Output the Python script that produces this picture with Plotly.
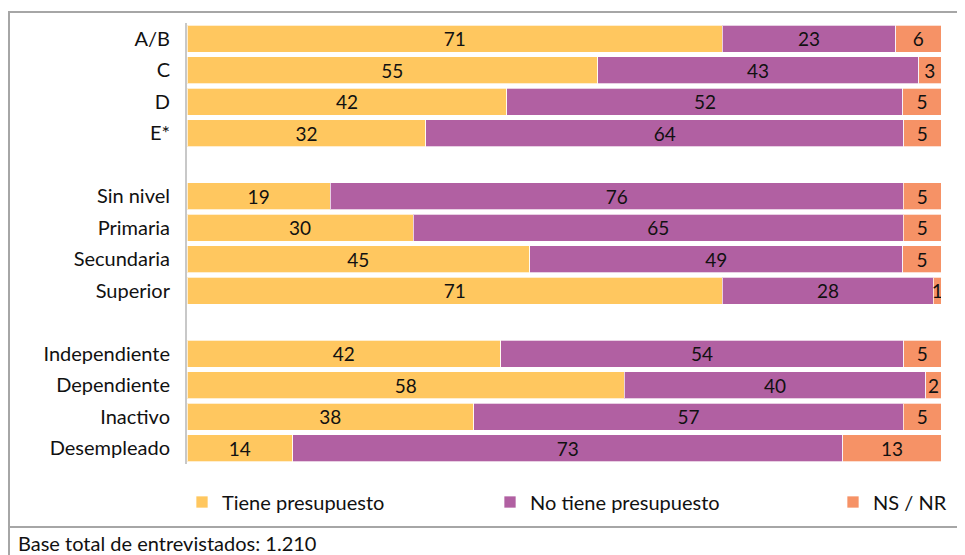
import plotly.graph_objects as go

# categories (blank entries are the spacer rows between groups)
categories = ["A/B", "C", "D", "E*", " ",
              "Sin nivel", "Primaria", "Secundaria", "Superior", "  ",
              "Independiente", "Dependiente", "Inactivo", "Desempleado"]

tiene = [71, 55, 42, 32, None, 19, 30, 45, 71, None, 42, 58, 38, 14]
no_tiene = [23, 43, 52, 64, None, 76, 65, 49, 28, None, 54, 40, 57, 73]
ns_nr = [6, 3, 5, 5, None, 5, 5, 5, 1, None, 5, 2, 5, 13]

series = [
    ("Tiene presupuesto", tiene, "#FFC75F", "legend"),
    ("No tiene presupuesto", no_tiene, "#B160A2", "legend2"),
    ("NS / NR", ns_nr, "#F69266", "legend3"),
]

FONT = "Lato"
FS = 20

# the page adds an 8px body margin, so the figure is drawn 8px smaller
W, H = 957, 547
L, R, T, B = 179, 24, 15, 91
PW, PH = W - L - R, H - T - B

fig = go.Figure()
for name, vals, color, leg in series:
    fig.add_trace(go.Bar(
        y=categories, x=vals, name=name, orientation="h",
        marker=dict(color=color, line=dict(color="rgba(255,255,255,0.7)", width=1)),
        text=[("" if v is None else str(v)) for v in vals],
        textposition="inside", insidetextanchor="middle", textangle=0,
        textfont=dict(family=FONT, size=FS - 1, color="#111111"),
        legend=leg, showlegend=True, hoverinfo="x+y+name",
    ))


def px_x(px):
    return (px - 8 - L) / PW


def px_y(py):
    return (T + PH - (py - 8)) / PH


leg_style = dict(orientation="h", xanchor="left", yanchor="middle", y=px_y(502),
                 font=dict(family=FONT, size=FS), bgcolor="rgba(0,0,0,0)")

fig.update_layout(
    barmode="stack", barnorm="percent", bargap=0.14,
    width=W, height=H,
    margin=dict(l=L, r=R, t=T, b=B),
    paper_bgcolor="white", plot_bgcolor="white",
    font=dict(family=FONT, size=FS, color="#111111"),
    uniformtext=dict(minsize=FS - 2, mode="show"),
    showlegend=True,
    xaxis=dict(range=[0, 100], visible=False, fixedrange=True),
    yaxis=dict(categoryorder="array", categoryarray=categories, autorange="reversed",
               showline=True, linecolor="#C8C8C8", linewidth=2, showgrid=False,
               ticks="", ticklabelstandoff=11, tickfont=dict(family=FONT, size=FS)),
    legend=dict(x=px_x(182), **leg_style),
    legend2=dict(x=px_x(490), **leg_style),
    legend3=dict(x=px_x(833), **leg_style),
)

# outer frame lines (left edge kept just inside the figure)
frame = dict(type="line", xref="paper", yref="paper", line=dict(color="#A6A6A6", width=2))
fig.add_shape(x0=px_x(9), x1=px_x(965), y0=px_y(12), y1=px_y(12), **frame)
fig.add_shape(x0=px_x(9), x1=px_x(9), y0=px_y(11), y1=px_y(555), **frame)
fig.add_shape(x0=px_x(9), x1=px_x(965), y0=px_y(527), y1=px_y(527), **frame)

fig.add_annotation(text="Base total de entrevistados: 1.210", xref="paper", yref="paper",
                   x=px_x(16), y=px_y(543), xanchor="left", yanchor="middle",
                   showarrow=False, font=dict(family=FONT, size=FS, color="#111111"))

fig.write_html("out.html")
